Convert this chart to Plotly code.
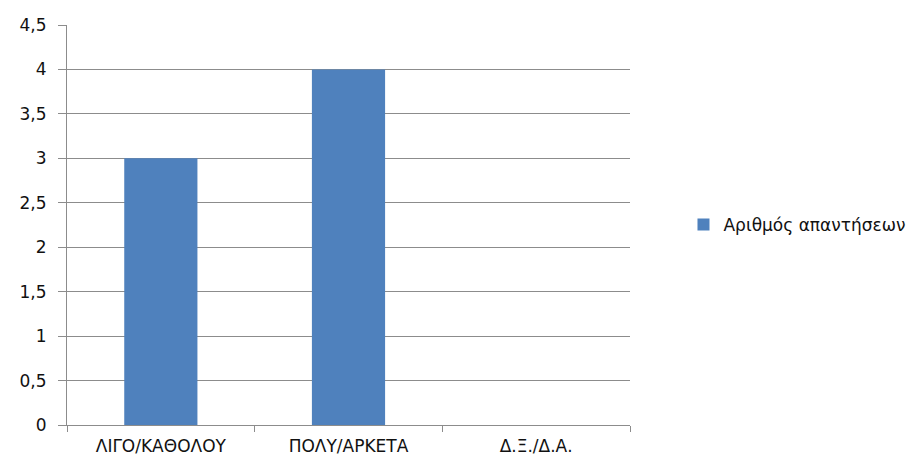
import plotly.graph_objects as go

categories = ["ΛΙΓΟ/ΚΑΘΟΛΟΥ", "ΠΟΛΥ/ΑΡΚΕΤΑ", "Δ.Ξ./Δ.Α."]
values = [3, 4, 0]
series_name = "Αριθμός απαντήσεων"

fig = go.Figure()
fig.add_trace(go.Bar(x=categories, y=values, name=series_name,
                     marker=dict(color="#4F81BD", line=dict(width=0))))

fig.update_layout(
    width=924, height=468,
    margin=dict(l=67, r=294, t=25, b=43),
    paper_bgcolor="white", plot_bgcolor="white",
    separators=",.",
    bargap=0.61,
    showlegend=True,
    font=dict(family="DejaVu Sans", size=17, color="#111111"),
    legend=dict(x=1.095, y=0.5, xanchor="left", yanchor="middle",
                font=dict(size=17), bgcolor="rgba(0,0,0,0)"),
)
fig.update_yaxes(range=[0, 4.5], dtick=0.5, showgrid=True, gridcolor="#8C8C8C", gridwidth=1,
                 showline=True, linecolor="#8C8C8C", linewidth=1,
                 ticks="outside", ticklen=8, tickcolor="#8C8C8C", zeroline=False,
                 ticklabelstandoff=8)
fig.update_xaxes(showline=True, linecolor="#8C8C8C", linewidth=1,
                 ticks="outside", ticklen=6, tickcolor="#8C8C8C",
                 tickson="boundaries", showgrid=False, ticklabelstandoff=6)

fig.write_html("out.html")
